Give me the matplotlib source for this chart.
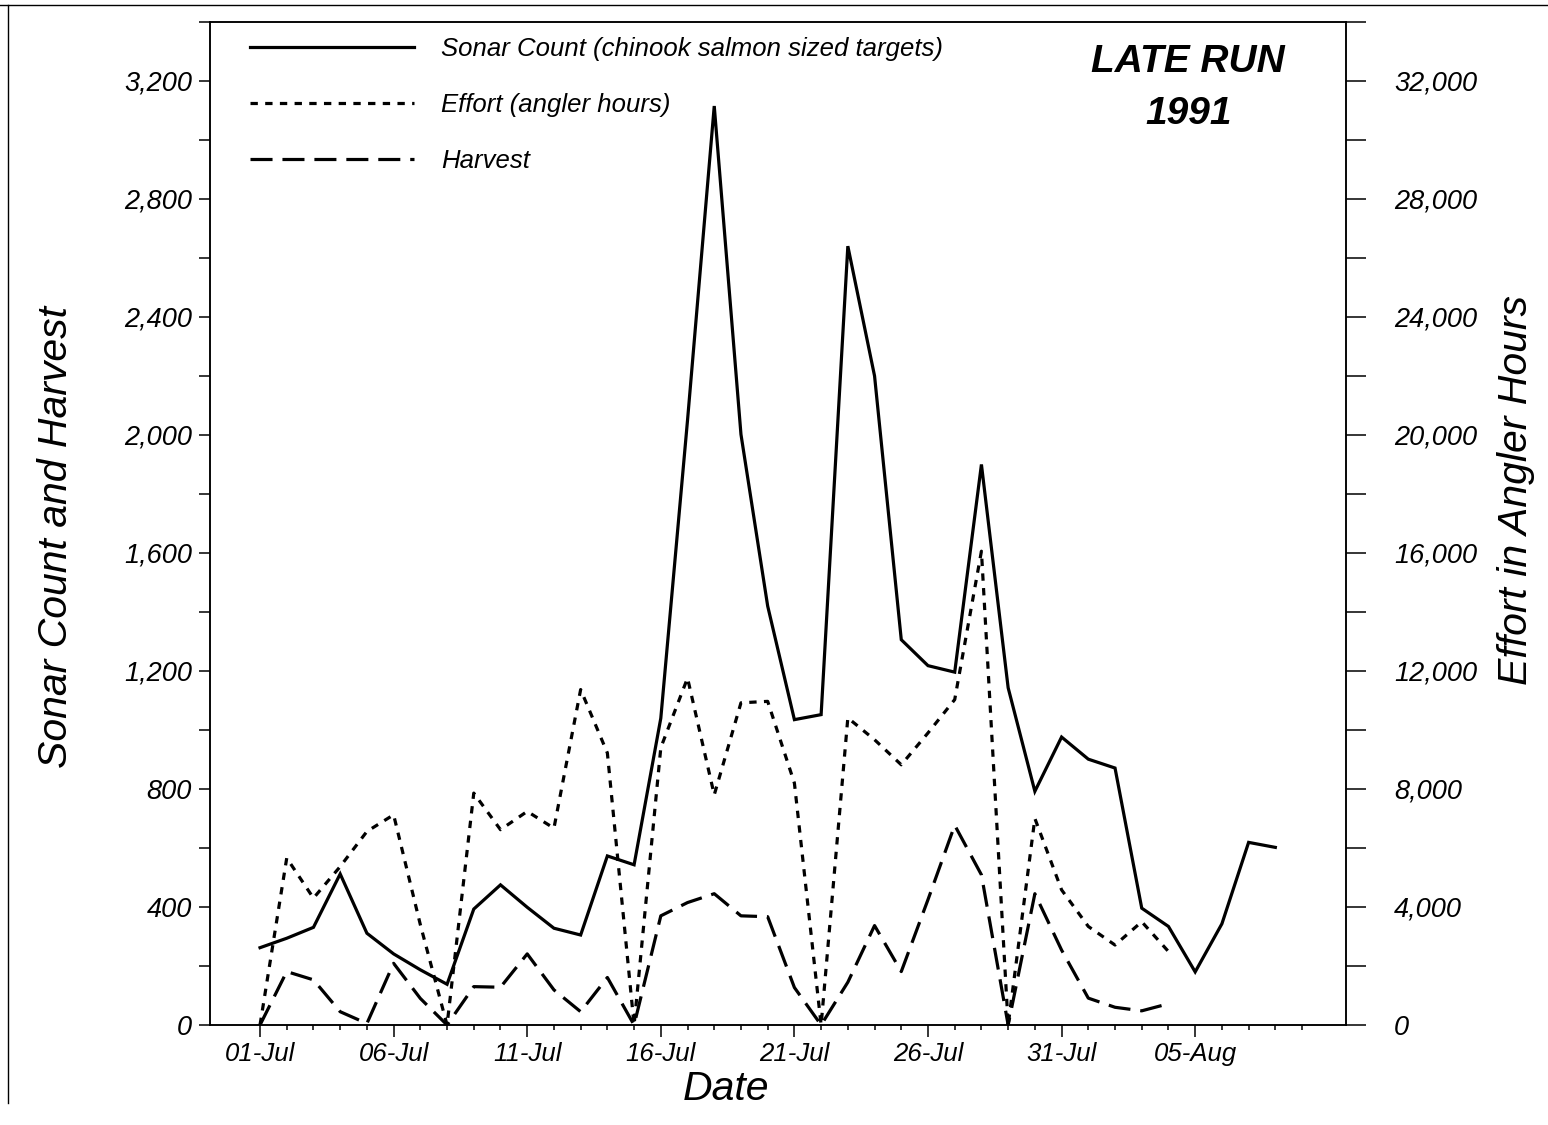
import matplotlib
matplotlib.use("Agg")
import matplotlib.pyplot as plt
import matplotlib.dates as mdates
from matplotlib.ticker import FixedLocator, MultipleLocator, FuncFormatter
from matplotlib.font_manager import FontProperties
from matplotlib.lines import Line2D
import pandas as pd

plt.rcParams['font.family'] = ['Liberation Sans', 'DejaVu Sans']

# daily values, 1991 late run (starting 01-Jul)
sonar = [262, 294, 331, 512, 311, 241, 187, 138, 393, 475, 399, 328, 305, 573, 543,
         1040, 2050, 3115, 2002, 1420, 1035, 1052, 2640, 2200, 1306, 1218, 1196, 1900,
         1143, 792, 976, 901, 871, 396, 334, 180, 343, 619, 602]
effort = [0, 5660, 4300, 5370, 6560, 7125, 3400, 0, 7860, 6620, 7240, 6670, 11370, 9220, 0,
          9400, 11760, 7800, 10920, 10970, 8200, 0, 10410, 9670, 8820, 9900, 11030, 16060,
          0, 7000, 4580, 3340, 2710, 3500, 2490]
harvest = [0, 181, 153, 45, 5, 209, 90, 0, 130, 128, 241, 119, 45, 161, 0,
           370, 415, 445, 370, 367, 127, 0, 145, 337, 181, 425, 677, 509,
           0, 445, 254, 91, 60, 48, 72]

start = pd.Timestamp('1991-07-01')
sonar_dates = pd.date_range(start, periods=len(sonar))
effort_dates = pd.date_range(start, periods=len(effort))
harvest_dates = pd.date_range(start, periods=len(harvest))
tick_dates = pd.date_range('1991-07-01', '1991-08-09')

fig = plt.figure(figsize=(15.48, 11.25), dpi=100)
ax = fig.add_axes([0.1357, 0.0889, 0.7339, 0.8916])
ax2 = ax.twinx()

lw = 2.3
l1, = ax.plot(sonar_dates, sonar, color='black', lw=lw, solid_joinstyle='miter',
              label='Sonar Count (chinook salmon sized targets)')
l3, = ax.plot(harvest_dates, harvest, color='black', lw=lw, linestyle=(0, (6.9, 3.1)),
              label='Harvest')
l2, = ax2.plot(effort_dates, effort, color='black', lw=lw, linestyle=(0, (2.3, 2.3)),
               label='Effort (angler hours)')

ax.xaxis.set_major_locator(FixedLocator(mdates.date2num(tick_dates[::5])))
ax.xaxis.set_minor_locator(FixedLocator(mdates.date2num(tick_dates)))
ax.xaxis.set_major_formatter(mdates.DateFormatter('%d-%b'))

ax.yaxis.set_major_locator(MultipleLocator(400))
ax.yaxis.set_minor_locator(MultipleLocator(200))
ax.yaxis.set_major_formatter(FuncFormatter(lambda v, p: '{:,.0f}'.format(v)))
ax2.yaxis.set_major_locator(MultipleLocator(4000))
ax2.yaxis.set_minor_locator(MultipleLocator(2000))
ax2.yaxis.set_major_formatter(FuncFormatter(lambda v, p: '{:,.0f}'.format(v)))

ax.set_xlim(start - pd.Timedelta(days=1.87), start + pd.Timedelta(days=40.65))
ax.set_ylim(0, 3400)
ax2.set_ylim(0, 34000)

ax.tick_params(axis='x', which='major', direction='out', length=8.6, width=1.1, pad=4)
ax.tick_params(axis='x', which='minor', direction='out', length=3.6, width=1.1)
ax.tick_params(axis='y', which='both', direction='out', length=8, width=1.1, pad=5)
ax2.tick_params(axis='y', which='both', direction='out', length=14.4, width=1.1, pad=20)
for lab in ax.get_xticklabels():
    lab.set_fontproperties(FontProperties(family='Liberation Sans', style='italic', size=18.5))
for lab in ax.get_yticklabels() + ax2.get_yticklabels():
    lab.set_fontproperties(FontProperties(family='Liberation Sans', style='italic', size=19.5))

for a in (ax, ax2):
    for s in a.spines.values():
        s.set_linewidth(1.1)

label_font = dict(family='Liberation Sans', style='italic', size=29.5)
ax.set_xlabel('Date', **label_font)
ax.xaxis.set_label_coords(0.454, -0.045)
ax.set_ylabel('Sonar Count and Harvest', **label_font)
ax.yaxis.set_label_coords(-0.119, 0.4865)
ax2.set_ylabel('Effort in Angler Hours', **label_font)
ax2.yaxis.set_label_coords(1.133, 0.533)

ax.text(0.861, 0.960, 'LATE RUN', transform=ax.transAxes, ha='center', va='center',
        family='Liberation Sans', style='italic', weight='bold', size=28)
ax.text(0.861, 0.908, '1991', transform=ax.transAxes, ha='center', va='center',
        family='Liberation Sans', style='italic', weight='bold', size=28)

leg = ax.legend(handles=[l1, l2, l3], loc='upper left', bbox_to_anchor=(0.035, 0.985),
                frameon=False, borderpad=0, borderaxespad=0, handlelength=6.4,
                handletextpad=1.05, labelspacing=1.25,
                prop=dict(family='Liberation Sans', style='italic', size=18.5))

# scanned page border
fig.add_artist(Line2D([0, 1], [0.9956, 0.9956], color='black', lw=1.0))
fig.add_artist(Line2D([0.0052, 0.0052], [0.02, 0.9956], color='black', lw=1.0))

fig.savefig('out.png', dpi=100)
